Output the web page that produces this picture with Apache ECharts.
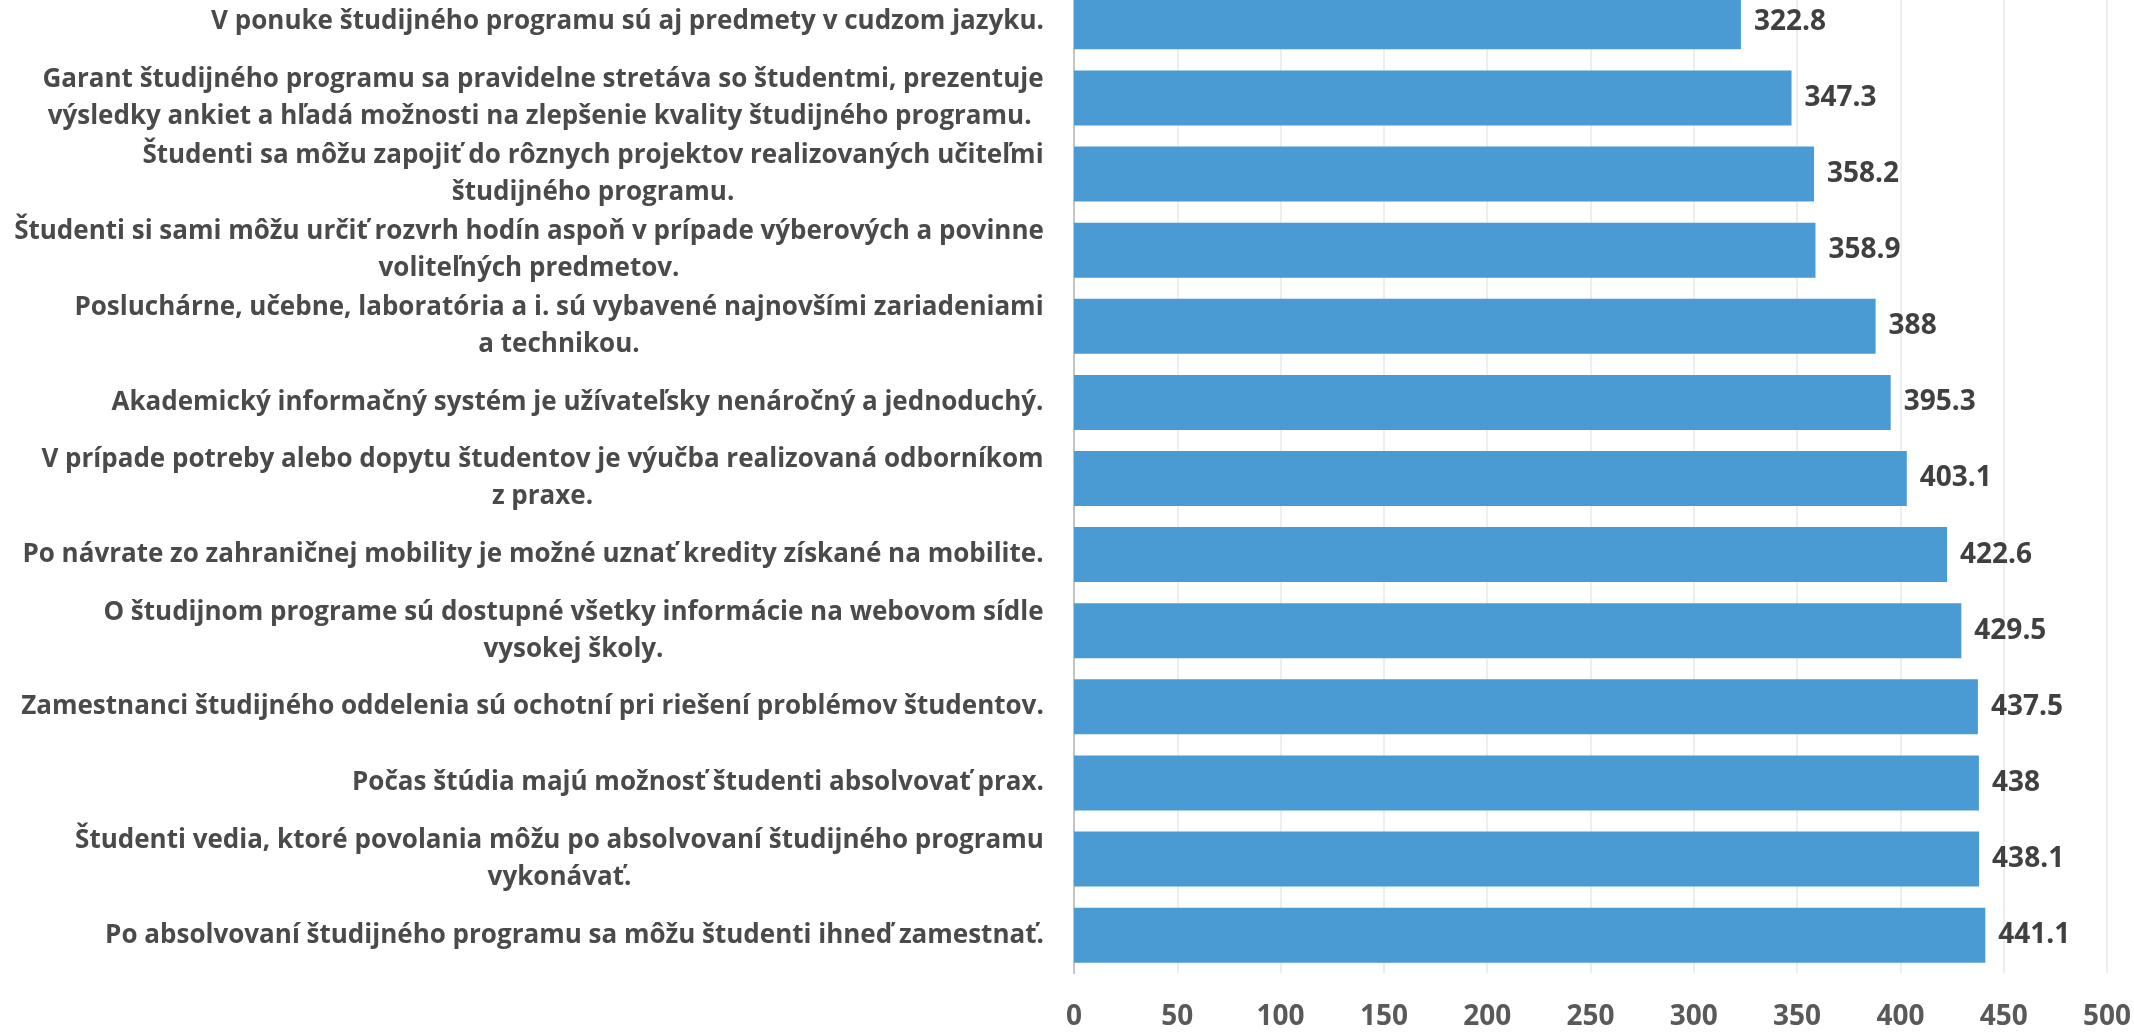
<!DOCTYPE html>
<html>
<head>
<meta charset="utf-8">
<script src="https://cdn.jsdelivr.net/npm/echarts@6/dist/echarts.min.js"></script>
<style>
  html, body { margin: 0; padding: 0; background: #fff; }
  #chart { width: 2134px; height: 1033px; }
</style>
</head>
<body>
<div id="chart"></div>
<script>
// otázky (zhora nadol)
var categories = [
    'V ponuke študijného programu sú aj predmety v cudzom jazyku.',
    'Garant študijného programu sa pravidelne stretáva so študentmi, prezentuje\nvýsledky ankiet a hľadá možnosti na zlepšenie kvality študijného programu. ',
    'Študenti sa môžu zapojiť do rôznych projektov realizovaných učiteľmi\nštudijného programu.',
    'Študenti si sami môžu určiť rozvrh hodín aspoň v prípade výberových a povinne\nvoliteľných predmetov.',
    'Posluchárne, učebne, laboratória a i. sú vybavené najnovšími zariadeniami\na technikou.',
    'Akademický informačný systém je užívateľsky nenáročný a jednoduchý.',
    'V prípade potreby alebo dopytu študentov je výučba realizovaná odborníkom\nz praxe.',
    'Po návrate zo zahraničnej mobility je možné uznať kredity získané na mobilite.',
    'O študijnom programe sú dostupné všetky informácie na webovom sídle\nvysokej školy.',
    'Zamestnanci študijného oddelenia sú ochotní pri riešení problémov študentov.',
    'Počas štúdia majú možnosť študenti absolvovať prax.',
    'Študenti vedia, ktoré povolania môžu po absolvovaní študijného programu\nvykonávať.',
    'Po absolvovaní študijného programu sa môžu študenti ihneď zamestnať.'
];
var values = [322.8, 347.3, 358.2, 358.9, 388, 395.3, 403.1, 422.6, 429.5, 437.5, 438, 438.1, 441.1];
var xTicks = {min: 0, max: 500, interval: 50};

var labelFont = {fontFamily: 'Open Sans', fontWeight: 'bold', fontSize: 26};

// riadky v popise sú centrované v bloku, blok je zarovnaný vpravo
var ctx = document.createElement('canvas').getContext('2d');
ctx.font = 'bold 26px "Open Sans"';
var rich = {};
categories.forEach(function (c, i) {
    var w = 0;
    c.split('\n').forEach(function (line) {
        w = Math.max(w, ctx.measureText(line).width);
    });
    rich['l' + i] = {
        width: Math.ceil(w) + 2,
        align: 'center',
        lineHeight: 37,
        color: '#4a4a4a',
        fontFamily: labelFont.fontFamily,
        fontWeight: labelFont.fontWeight,
        fontSize: labelFont.fontSize
    };
});

var myChart = echarts.init(document.getElementById('chart'));
myChart.setOption({
    animation: false,
    backgroundColor: '#fff',
    grid: {
        left: 1074,
        right: 27,
        top: -16.25,
        bottom: 59.75,
        containLabel: false,
        outerBoundsMode: 'none'
    },
    xAxis: {
        type: 'value',
        min: xTicks.min,
        max: xTicks.max,
        interval: xTicks.interval,
        axisLine: {show: false},
        axisTick: {show: false},
        splitLine: {lineStyle: {color: '#e8e8e8', width: 1.5}},
        axisLabel: {
            margin: 30,
            color: '#595959',
            fontFamily: 'Open Sans',
            fontWeight: 'bold',
            fontSize: 28
        }
    },
    yAxis: {
        type: 'category',
        inverse: true,
        data: categories,
        axisLine: {lineStyle: {color: '#c4c4c4', width: 2}},
        axisTick: {show: false},
        axisLabel: {
            margin: 29,
            align: 'right',
            rich: rich,
            formatter: function (value, index) {
                return value.split('\n').map(function (line) {
                    return '{l' + index + '|' + line + '}';
                }).join('\n');
            }
        }
    },
    series: [{
        type: 'bar',
        data: values,
        barWidth: 55,
        itemStyle: {color: '#4a9bd4'},
        label: {
            show: true,
            position: 'right',
            distance: 13,
            color: '#404040',
            fontFamily: 'Open Sans',
            fontWeight: 'bold',
            fontSize: 28
        }
    }]
});
</script>
</body>
</html>
